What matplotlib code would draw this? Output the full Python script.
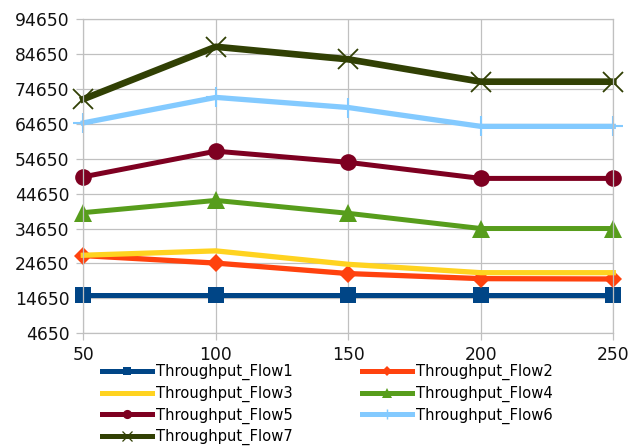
import matplotlib
matplotlib.use("Agg")
import matplotlib.pyplot as plt
from matplotlib.lines import Line2D

plt.rcParams['font.family'] = ['DejaVu Sans']

x_values = [50, 100, 150, 200, 250]
y_ticks = [4650, 14650, 24650, 34650, 44650, 54650, 64650, 74650, 84650, 94650]

flow1 = [15600, 15600, 15600, 15600, 15600]
flow2 = [26900, 24750, 21750, 20300, 20200]
flow3 = [27000, 28250, 24400, 22000, 22000]
flow4 = [39200, 42700, 39000, 34650, 34650]
flow5 = [49450, 56800, 53600, 49000, 49000]
flow6 = [64900, 72200, 69300, 63900, 63900]
flow7 = [71700, 86700, 83100, 76700, 76700]

names = ["Throughput_Flow1", "Throughput_Flow2", "Throughput_Flow3",
         "Throughput_Flow4", "Throughput_Flow5", "Throughput_Flow6",
         "Throughput_Flow7"]
series = [flow1, flow2, flow3, flow4, flow5, flow6, flow7]

styles = [
    dict(color="#004586", lw=3.6, marker="s", ms=11, mew=0),
    dict(color="#ff420e", lw=3.8, marker="D", ms=9, mew=0),
    dict(color="#ffd320", lw=3.8, marker="None", ms=0, mew=0),
    dict(color="#579d1c", lw=3.6, marker="^", ms=13, mew=0),
    dict(color="#7e0021", lw=3.6, marker="o", ms=12, mew=0),
    dict(color="#83caff", lw=3.8, marker="+", ms=14, mew=1.5),
    dict(color="#314004", lw=4.8, marker="x", ms=14, mew=1.3),
]

fig = plt.figure(figsize=(6.35, 4.47), dpi=100)
ax = fig.add_axes([0.1312, 0.2544, 0.8346, 0.7031])

for vals, st in zip(series, styles):
    ax.plot(x_values, vals, color=st["color"], lw=st["lw"], marker=st["marker"],
            ms=st["ms"], mew=st["mew"], mec=st["color"], mfc=st["color"],
            clip_on=False, solid_joinstyle="round")

ax.set_xlim(50, 250)
ax.set_ylim(4650, 94650)
ax.set_xticks(x_values)
ax.set_yticks(y_ticks)
ax.grid(True, color="#c0c0c0", lw=0.9)
ax.set_axisbelow(True)
for sp in ax.spines.values():
    sp.set_color("#c0c0c0")
    sp.set_linewidth(0.9)
ax.tick_params(axis="both", color="#c0c0c0", length=5, width=0.9,
               labelsize=12.3, labelcolor="#111111")
ax.tick_params(axis="y", pad=5)
ax.tick_params(axis="x", pad=4)

# legend proxies with small markers, column-major order for row-wise reading
legend_handles = []
for st in styles:
    legend_handles.append(Line2D([], [], color=st["color"], lw=3.6,
                                 marker=st["marker"], ms=st["ms"] * 0.55,
                                 mew=st["mew"] * 0.7, mec=st["color"],
                                 mfc=st["color"]))
order = [0, 2, 4, 6, 1, 3, 5]
fig.legend([legend_handles[i] for i in order], [names[i] for i in order],
           ncol=2, loc="upper left", bbox_to_anchor=(0.16, 0.186),
           frameon=False, fontsize=10.6, handlelength=3.4,
           handletextpad=0.3, columnspacing=4.7, labelspacing=0.38,
           borderaxespad=0, borderpad=0)

fig.savefig("out.png", dpi=100)
